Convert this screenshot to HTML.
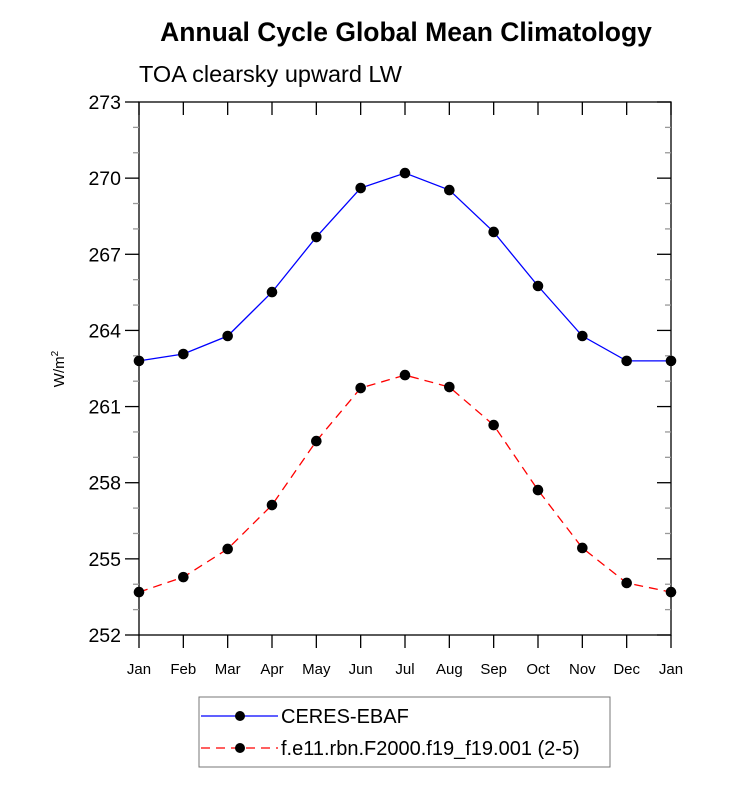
<!DOCTYPE html>
<html><head><meta charset="utf-8"><style>
body{margin:0;background:#fff;}
svg{display:block;font-family:"Liberation Sans",sans-serif;}
</style></head><body>
<svg id="chart" width="733" height="789" viewBox="0 0 733 789" xmlns="http://www.w3.org/2000/svg">
<text x="406" y="41" text-anchor="middle" font-size="26.5" font-weight="bold">Annual Cycle Global Mean Climatology</text>
<text x="139" y="82" font-size="23.5">TOA clearsky upward LW</text>
<text transform="translate(64,369) rotate(-90)" text-anchor="middle" font-size="15">W/m<tspan font-size="10" dy="-6">2</tspan></text>
<g id="axes"></g>
<g id="series"></g>
<g>
<rect x="199" y="697" width="411" height="70" fill="none" stroke="#777" stroke-width="1"/>
<g>
<line x1="201" y1="716" x2="278" y2="716" stroke="#0000ff" stroke-width="1.3"/>
<circle cx="240" cy="716" r="5" fill="#000"/>
<text x="281" y="723" font-size="20">CERES-EBAF</text>
</g>
<g>
<line x1="201" y1="748" x2="278" y2="748" stroke="#ff0000" stroke-width="1.3" stroke-dasharray="9,6"/>
<circle cx="240" cy="748" r="5" fill="#000"/>
<text x="281" y="755" font-size="20">f.e11.rbn.F2000.f19_f19.001 (2-5)</text>
</g>
</g>
</svg>
<script>
const months = ["Jan","Feb","Mar","Apr","May","Jun","Jul","Aug","Sep","Oct","Nov","Dec","Jan"];
const ceres = [262.8,263.07,263.78,265.51,267.68,269.61,270.2,269.53,267.88,265.75,263.78,262.8,262.8];
const model = [253.69,254.28,255.39,257.12,259.64,261.73,262.24,261.77,260.27,257.71,255.43,254.05,253.69];
const yTicks = [252,255,258,261,264,267,270,273];
const yMin = 252, yMax = 273;
const L=139,R=671,T=102,B=635;
const NS="http://www.w3.org/2000/svg";
function x(i){return L+(R-L)*i/(months.length-1);}
function y(v){return B-(B-T)*(v-yMin)/(yMax-yMin);}
function mk(tag,attrs,parent){const e=document.createElementNS(NS,tag);for(const k in attrs)e.setAttribute(k,attrs[k]);parent.appendChild(e);return e;}
const axes=document.getElementById('axes');
const frame=mk('rect',{x:L,y:T,width:R-L,height:B-T,fill:'none',stroke:'#000','stroke-width':1.3},axes);


for(let v=yMin;v<=yMax;v++){
  const major=yTicks.includes(v);
  const len=major?14:6;
  const col=major?'#000':'#999';
  mk('line',{x1:L-len,x2:L,y1:y(v),y2:y(v),stroke:col,'stroke-width':1.3},axes);
  mk('line',{x1:R-len,x2:R,y1:y(v),y2:y(v),stroke:col,'stroke-width':1.3},axes);
}
yTicks.forEach(v=>{
  const t=mk('text',{x:L-18,y:y(v)+7,'text-anchor':'end','font-size':19.5},axes);
  t.textContent=v;
  
  
});
months.forEach((m,i)=>{
  mk('line',{x1:x(i),x2:x(i),y1:B,y2:B+13,stroke:'#000','stroke-width':1.3},axes);
  mk('line',{x1:x(i),x2:x(i),y1:T,y2:T+13,stroke:'#000','stroke-width':1.3},axes);
  const t=mk('text',{x:x(i),y:B+39,'text-anchor':'middle','font-size':15},axes);
  t.textContent=m;
  
  
});
const series=document.getElementById('series');
function draw(vals,color,dash,name){
  const g=mk('g',{},series);
  
  
  const pts=vals.map((v,i)=>x(i)+','+y(v)).join(' ');
  const pl=mk('polyline',{points:pts,fill:'none',stroke:color,'stroke-width':1.3},g);
  if(dash)pl.setAttribute('stroke-dasharray',dash);
  vals.forEach((v,i)=>{
    const c=mk('circle',{cx:x(i),cy:y(v),r:5.3,fill:'#000'},g);
    
    
  });
}
draw(ceres,'#0000ff',null,'series-ceres-ebaf');
draw(model,'#ff0000','9,6','series-model');
</script>
</body></html>
